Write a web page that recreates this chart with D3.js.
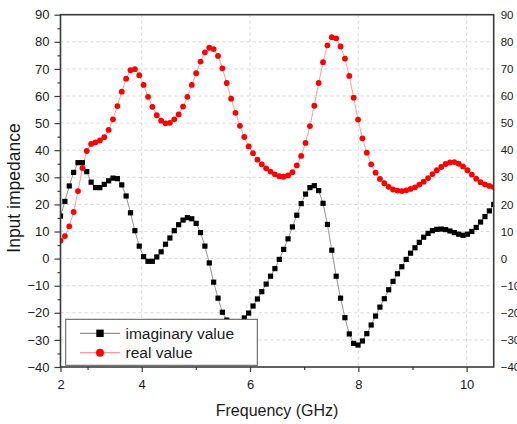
<!DOCTYPE html>
<html>
<head>
<meta charset="utf-8">
<script src="https://cdn.jsdelivr.net/npm/d3@7"></script>
<style>
  html, body { margin: 0; padding: 0; background: #fff; }
  svg { display: block; font-family: "Liberation Sans", Arial, sans-serif; }
</style>
</head>
<body>
<svg id="chart" width="517" height="424"></svg>
<script>
// Frequency sweep: 100 samples from 2.5 GHz to 10.5 GHz
const sweepStart = 2.5, sweepStop = 10.5, sweepCount = 100;
const freqGHz = d3.range(sweepCount).map(i => sweepStart + i * (sweepStop - sweepStart) / (sweepCount - 1));

// Imaginary part of the input impedance
const imagValue = [
  15.7, 21.1, 26.8, 31.8, 35.4, 35.4, 32.1, 28.2, 26.2, 26.2,
  27.4, 28.7, 29.7, 29.5, 27.2, 23.1, 16.9, 10.3, 4.6, 0.7,
  -1.0, -1.0, 0.6, 2.5, 5.3, 7.6, 10.3, 12.5, 14.2, 15.1,
  14.7, 13.0, 9.6, 4.6, -1.6, -8.7, -14.6, -19.8, -22.7, -24.2,
  -24.6, -23.6, -21.9, -20.1, -17.5, -14.9, -12.2, -9.4, -6.5, -3.7,
  -0.3, 3.4, 7.3, 11.7, 16.0, 20.3, 23.8, 26.2, 26.9, 25.1,
  20.4, 12.6, 3.1, -6.5, -14.6, -21.8, -27.8, -31.3, -31.9, -30.4,
  -27.7, -24.5, -21.2, -17.9, -14.8, -11.5, -8.4, -5.6, -3.0, -0.3,
  2.0, 4.0, 6.0, 7.9, 9.3, 10.3, 10.8, 10.9, 10.7, 10.2,
  9.6, 9.0, 8.6, 9.0, 10.0, 11.5, 13.5, 15.5, 17.6, 20.0
];

// Real part of the input impedance
const realValue = [
  6.6, 8.3, 11.9, 17.2, 24.9, 33.4, 39.7, 42.3, 42.9, 43.6,
  44.8, 47.5, 51.4, 56.3, 61.6, 66.4, 69.5, 69.9, 67.7, 64.1,
  59.7, 56.0, 52.9, 50.9, 49.9, 50.1, 51.4, 53.2, 56.1, 59.7,
  64.1, 68.4, 72.7, 76.1, 77.8, 77.3, 74.8, 70.2, 64.8, 59.0,
  53.8, 49.0, 44.9, 41.4, 38.9, 36.5, 34.8, 33.3, 32.1, 31.1,
  30.4, 30.2, 30.7, 31.9, 34.4, 37.9, 42.7, 48.9, 56.4, 64.8,
  72.5, 78.7, 81.7, 81.3, 78.3, 73.8, 67.4, 59.4, 51.3, 44.4,
  39.1, 34.8, 31.7, 29.4, 27.8, 26.5, 25.5, 25.1, 24.9, 25.2,
  25.7, 26.3, 27.3, 28.4, 29.7, 31.2, 32.6, 33.8, 34.9, 35.5,
  35.6, 35.0, 34.0, 32.6, 31.0, 29.5, 28.2, 27.4, 26.8, 26.4
];

// Axis ticks
const xMajorTicks = [2.5, 4, 6, 8, 10];
const xMinorTicks = [3, 5, 7, 9];
const xGridTicks = [4, 6, 8, 10];
const yMajorTicks = [-40, -30, -20, -10, 0, 10, 20, 30, 40, 50, 60, 70, 80, 90];
const yMinorTicks = [-35, -25, -15, -5, 5, 15, 25, 35, 45, 55, 65, 75, 85];
const yGridTicks = [-30, -20, -10, 0, 10, 20, 30, 40, 50, 60, 70, 80];

const seriesNames = ["imaginary value", "real value"];

const svg = d3.select("#chart");
const plotLeft = 60.5, plotRight = 493.7, plotTop = 14.7, plotBottom = 367;

const x = d3.scaleLinear().domain([sweepStart, sweepStop]).range([plotLeft, plotRight]);
const y = d3.scaleLinear().domain([-40, 90]).range([plotBottom, plotTop]);

// Dashed grid
const grid = svg.append("g").attr("stroke", "#d9d9d9").attr("stroke-width", 1).attr("stroke-dasharray", "3,3");
grid.selectAll("line.gx").data(xGridTicks).join("line")
  .attr("x1", d => x(d)).attr("x2", d => x(d)).attr("y1", plotTop).attr("y2", plotBottom);
grid.selectAll("line.gy").data(yGridTicks).join("line")
  .attr("x1", plotLeft).attr("x2", plotRight).attr("y1", d => y(d)).attr("y2", d => y(d));

// Data, clipped to the plot frame
svg.append("clipPath").attr("id", "plotClip").append("rect")
  .attr("x", plotLeft).attr("y", plotTop).attr("width", plotRight - plotLeft).attr("height", plotBottom - plotTop);
const plot = svg.append("g").attr("clip-path", "url(#plotClip)");

const imagPts = freqGHz.map((f, i) => [f, imagValue[i]]);
const realPts = freqGHz.map((f, i) => [f, realValue[i]]);
const line = d3.line().x(d => x(d[0])).y(d => y(d[1]));

plot.append("path").datum(imagPts).attr("d", line)
  .attr("fill", "none").attr("stroke", "#777").attr("stroke-width", 0.8);
plot.append("path").datum(realPts).attr("d", line)
  .attr("fill", "none").attr("stroke", "#ff8080").attr("stroke-width", 0.8);

const sq = 5.2;
plot.selectAll("rect.imag").data(imagPts).join("rect")
  .attr("x", d => x(d[0]) - sq / 2).attr("y", d => y(d[1]) - sq / 2)
  .attr("width", sq).attr("height", sq).attr("fill", "#000");
plot.selectAll("circle.real").data(realPts).join("circle")
  .attr("cx", d => x(d[0])).attr("cy", d => y(d[1])).attr("r", 2.9).attr("fill", "#ff0000");

// Axes
const fmtX = d => String(Math.floor(d));
const axisColor = "#3a3a3a";

const gBottom = svg.append("g").attr("transform", `translate(0,${plotBottom})`)
  .call(d3.axisBottom(x).tickValues(xMajorTicks).tickFormat(fmtX).tickSizeInner(5).tickSizeOuter(0).tickPadding(8));
const gBottomMinor = svg.append("g").attr("transform", `translate(0,${plotBottom})`)
  .call(d3.axisBottom(x).tickValues(xMinorTicks).tickFormat("").tickSizeInner(3).tickSizeOuter(0));

const gLeft = svg.append("g").attr("transform", `translate(${plotLeft},0)`)
  .call(d3.axisLeft(y).tickValues(yMajorTicks).tickSizeInner(6).tickSizeOuter(0).tickPadding(5));
const gLeftMinor = svg.append("g").attr("transform", `translate(${plotLeft},0)`)
  .call(d3.axisLeft(y).tickValues(yMinorTicks).tickFormat("").tickSizeInner(3).tickSizeOuter(0));

const gRight = svg.append("g").attr("transform", `translate(${plotRight},0)`)
  .call(d3.axisRight(y).tickValues(yMajorTicks).tickSizeInner(0).tickSizeOuter(0).tickPadding(7));

[gBottom, gBottomMinor, gLeft, gLeftMinor, gRight].forEach(g => {
  g.select(".domain").remove();
  g.selectAll(".tick line").attr("stroke", axisColor).attr("stroke-width", 1.2);
  g.selectAll("text").attr("fill", "#1a1a1a").attr("font-family", "Liberation Sans, Arial, sans-serif");
});
gBottom.selectAll("text").attr("font-size", 13);
gLeft.selectAll("text").attr("font-size", 13);
gRight.selectAll("text").attr("font-size", 11.5);

// Frame
svg.append("rect").attr("x", plotLeft).attr("y", plotTop).attr("width", plotRight - plotLeft).attr("height", plotBottom - plotTop)
  .attr("fill", "none").attr("stroke", axisColor).attr("stroke-width", 1.6);

// Axis titles
svg.append("text").attr("x", (plotLeft + plotRight) / 2).attr("y", 416)
  .attr("text-anchor", "middle").attr("font-size", 16).attr("fill", "#1a1a1a")
  .text("Frequency (GHz)");
svg.append("text").attr("transform", `translate(20,188) rotate(-90)`)
  .attr("text-anchor", "middle").attr("font-size", 17.5).attr("fill", "#1a1a1a")
  .text("Input impedance");

// Legend
const legend = svg.append("g");
legend.append("rect").attr("x", 65.7).attr("y", 319.3).attr("width", 191.6).attr("height", 46)
  .attr("fill", "#fff").attr("stroke", "#555").attr("stroke-width", 1);
const legendRows = [
  { name: seriesNames[0], line: "#777", y: 333.3 },
  { name: seriesNames[1], line: "#ff8080", y: 352.7 }
];
legendRows.forEach((r, k) => {
  legend.append("line").attr("x1", 80).attr("x2", 120).attr("y1", r.y).attr("y2", r.y)
    .attr("stroke", r.line).attr("stroke-width", 1);
  if (k === 0) {
    legend.append("rect").attr("x", 100 - 3.7).attr("y", r.y - 3.7).attr("width", 7.4).attr("height", 7.4).attr("fill", "#000");
  } else {
    legend.append("circle").attr("cx", 100).attr("cy", r.y).attr("r", 4).attr("fill", "#ff0000");
  }
  legend.append("text").attr("x", 125.5).attr("y", r.y + 5.5).attr("font-size", 15.5).attr("fill", "#1a1a1a").text(r.name);
});
</script>
</body>
</html>
